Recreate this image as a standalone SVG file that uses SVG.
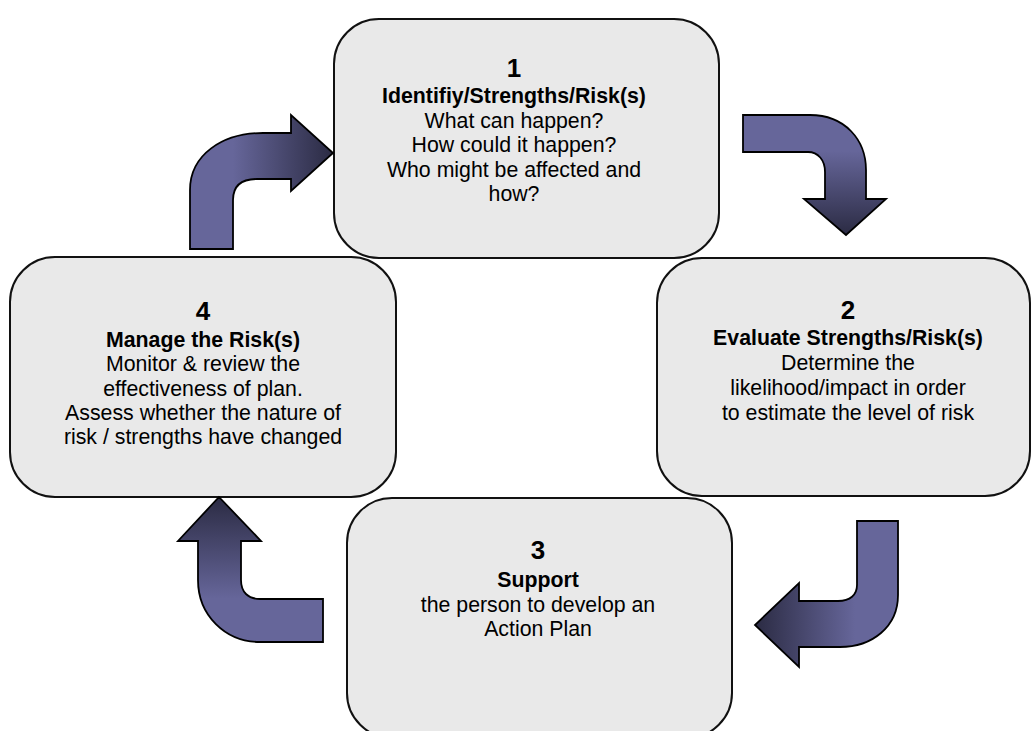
<svg xmlns="http://www.w3.org/2000/svg" width="1031" height="731" viewBox="0 0 1031 731">
<style>
.box{fill:#e9e9e9;stroke:#111;stroke-width:2}
.arr{stroke:#000;stroke-width:1.8;stroke-linejoin:miter}
text{font-family:"Liberation Sans",Arial,sans-serif;fill:#000;text-anchor:middle}
.num{font-size:26px;font-weight:bold}
.ttl{font-size:21.3px;font-weight:bold}
.txt{font-size:21.3px}
</style>
<defs>
<linearGradient id="gA" x1="0" y1="0" x2="1" y2="0"><stop offset="0.3" stop-color="#66669a"/><stop offset="1" stop-color="#2b2b43"/></linearGradient>
<linearGradient id="gB" x1="0" y1="0" x2="0" y2="1"><stop offset="0.3" stop-color="#66669a"/><stop offset="1" stop-color="#2b2b43"/></linearGradient>
<linearGradient id="gC" x1="1" y1="0" x2="0" y2="0"><stop offset="0.3" stop-color="#66669a"/><stop offset="1" stop-color="#2b2b43"/></linearGradient>
<linearGradient id="gD" x1="0" y1="1" x2="0" y2="0"><stop offset="0.3" stop-color="#66669a"/><stop offset="1" stop-color="#2b2b43"/></linearGradient>
</defs>
<rect width="1031" height="731" fill="#fff"/>
<g id="node4">
<rect class="box" x="10" y="257" width="386" height="240" rx="45"/>
<text class="num" x="203" y="320">4</text>
<text class="ttl" x="203" y="347">Manage the Risk(s)</text>
<text class="txt" x="203" y="371">Monitor &amp; review the</text>
<text class="txt" x="203" y="396">effectiveness of plan.</text>
<text class="txt" x="203" y="420">Assess whether the nature of</text>
<text class="txt" x="203" y="444">risk / strengths have changed</text>
</g>
<g id="node2">
<rect class="box" x="657" y="258" width="373" height="238" rx="45"/>
<text class="num" x="848" y="319">2</text>
<text class="ttl" x="848" y="345">Evaluate Strengths/Risk(s)</text>
<text class="txt" x="848" y="370">Determine the</text>
<text class="txt" x="848" y="395">likelihood/impact in order</text>
<text class="txt" x="848" y="420">to estimate the level of risk</text>
</g>
<g id="node1">
<rect class="box" x="334" y="19" width="385" height="239" rx="45"/>
<text class="num" x="514" y="77">1</text>
<text class="ttl" x="514" y="103">Identifiy/Strengths/Risk(s)</text>
<text class="txt" x="514" y="128">What can happen?</text>
<text class="txt" x="514" y="152">How could it happen?</text>
<text class="txt" x="514" y="177">Who might be affected and</text>
<text class="txt" x="514" y="201">how?</text>
</g>
<g id="node3">
<rect class="box" x="347" y="498" width="385" height="240" rx="45"/>
<text class="num" x="538" y="559">3</text>
<text class="ttl" x="538" y="587">Support</text>
<text class="txt" x="538" y="612">the person to develop an</text>
<text class="txt" x="538" y="636">Action Plan</text>
</g>
<g id="connectors">
<path class="arr" fill="url(#gA)" d="M190,249 L190,190 C190,155 222,133 263,133 L291,133 L291,115 L333,153 L291,191 L291,179 L257,179 C242,179 233,185 233,200 L233,249 Z"/>
<path class="arr" fill="url(#gB)" d="M743,115 L810,115 C845,115 866,140 866,170 L866,199 L886,199 L846,235 L804,199 L825,199 L825,172 C825,160 818,152 808,152 L743,152 Z"/>
<path class="arr" fill="url(#gC)" d="M857,521 L898,521 L898,595 C898,627 872,647 840,647 L799,647 L799,667 L755,625 L799,583 L799,601 L838,601 C850,601 857,595 857,585 Z"/>
<path class="arr" fill="url(#gD)" d="M219,497 L261,541 L241,541 L241,580 C241,592 248,599 260,599 L323,599 L323,642 L260,642 C225,642 198,615 198,580 L198,541 L178,541 Z"/>
</g>
</svg>
